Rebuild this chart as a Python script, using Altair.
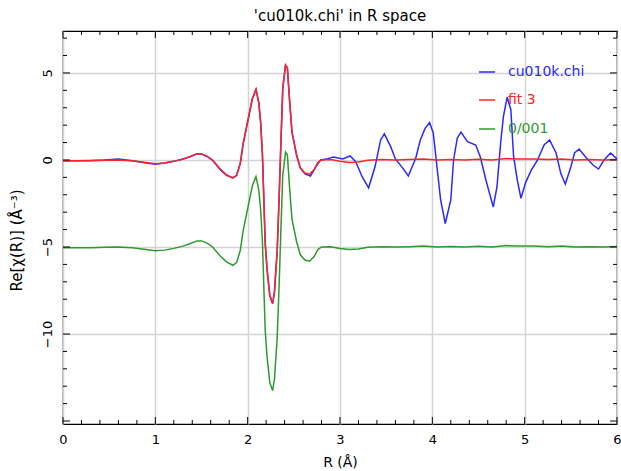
import altair as alt
import pandas as pd

# ---------------- data ----------------
R_fit = [0.00, 0.15, 0.30, 0.45, 0.60, 0.75, 0.90, 1.00, 1.10, 1.20,
         1.30, 1.38, 1.45, 1.50, 1.56, 1.62, 1.70, 1.77, 1.84, 1.88,
         1.92, 1.95, 2.00, 2.05, 2.09, 2.12, 2.14, 2.16, 2.19, 2.21,
         2.24, 2.27, 2.29, 2.32, 2.34, 2.36, 2.38, 2.41, 2.43, 2.45,
         2.48, 2.53, 2.57, 2.62, 2.67, 2.72, 2.76, 2.80, 2.90, 3.00,
         3.10, 3.20, 3.30, 3.45, 3.60, 3.75, 3.90, 4.05, 4.20, 4.35,
         4.50, 4.65, 4.80, 4.95, 5.10, 5.25, 5.40, 5.55, 5.70, 5.85,
         6.00]
fit_vals = [-0.05, -0.05, -0.04, -0.02, 0.00, -0.05, -0.15, -0.22, -0.18, -0.08,
            0.05, 0.20, 0.35, 0.35, 0.22, 0.00, -0.50, -0.85, -1.05, -0.90,
            -0.20, 0.90, 2.20, 3.50, 4.05, 3.30, 2.20, 0.30, -4.80, -6.30,
            -7.80, -8.25, -7.60, -5.20, -2.30, 1.00, 4.10, 5.45, 5.30, 3.70,
            1.60, 0.30, -0.45, -0.75, -0.82, -0.55, -0.15, 0.00, 0.02, -0.08,
            -0.15, -0.12, -0.02, 0.02, 0.00, 0.02, 0.05, 0.00, 0.03, 0.00,
            0.04, 0.00, 0.08, 0.05, 0.05, 0.02, 0.05, 0.00, 0.02, 0.00,
            0.03]
# "0/001" trace, drawn with a -5 offset in the reference
res_vals = [-5.05, -5.05, -5.04, -5.02, -5.00, -5.05, -5.15, -5.22, -5.18, -5.08,
            -4.95, -4.80, -4.65, -4.65, -4.78, -5.00, -5.50, -5.85, -6.05, -5.90,
            -5.20, -4.10, -2.80, -1.50, -0.95, -1.70, -2.80, -4.70, -9.80, -11.30,
            -12.80, -13.25, -12.60, -10.20, -7.30, -4.00, -0.90, 0.45, 0.30, -1.30,
            -3.40, -4.70, -5.45, -5.75, -5.82, -5.55, -5.15, -5.00, -4.98, -5.08,
            -5.15, -5.12, -5.02, -4.98, -5.00, -4.98, -4.95, -5.00, -4.97, -5.00,
            -4.96, -5.00, -4.92, -4.95, -4.95, -4.98, -4.95, -5.00, -4.98, -5.00,
            -4.97]

R_data = [0.00, 0.15, 0.30, 0.45, 0.60, 0.75, 0.90, 1.00, 1.10, 1.20,
          1.30, 1.38, 1.45, 1.50, 1.56, 1.62, 1.70, 1.77, 1.84, 1.88,
          1.92, 1.95, 2.00, 2.05, 2.09, 2.12, 2.14, 2.16, 2.19, 2.21,
          2.24, 2.27, 2.29, 2.32, 2.34, 2.36, 2.38, 2.41, 2.43, 2.45,
          2.48, 2.53,
          2.57, 2.62, 2.68, 2.75, 2.79, 2.85, 2.93, 3.03, 3.11, 3.17,
          3.24, 3.31, 3.38, 3.44, 3.48, 3.55, 3.60, 3.68, 3.74, 3.82,
          3.87, 3.92, 3.97, 4.01, 4.05, 4.09, 4.14, 4.20, 4.23, 4.27,
          4.31, 4.38, 4.47, 4.52, 4.58, 4.66, 4.70, 4.74, 4.77, 4.81,
          4.85, 4.88, 4.92, 4.96, 5.01, 5.07, 5.14, 5.21, 5.27, 5.34,
          5.39, 5.44, 5.50, 5.54, 5.59, 5.66, 5.74, 5.80, 5.86, 5.93,
          6.00]
data_vals = [-0.05, -0.05, -0.03, 0.00, 0.05, -0.04, -0.18, -0.25, -0.18, -0.08,
             0.05, 0.20, 0.36, 0.34, 0.20, -0.02, -0.55, -0.88, -1.02, -0.88,
             -0.20, 0.90, 2.20, 3.50, 4.05, 3.30, 2.20, 0.30, -4.80, -6.30,
             -7.80, -8.25, -7.60, -5.20, -2.30, 1.00, 4.10, 5.45, 5.30, 3.70,
             1.60, 0.25,
             -0.45, -0.80, -0.92, -0.29, 0.00, 0.05, 0.17, 0.06, 0.23, -0.10,
             -0.96, -1.60, -0.38, 1.15, 1.50, 0.75, 0.06, -0.47, -0.92, 0.10,
             1.15, 1.80, 2.15, 1.55, -0.38, -2.30, -3.65, -2.30, 0.00, 1.25,
             1.60, 1.05, 0.86, 0.17, -1.15, -2.70, -1.55, 1.00, 2.50, 3.60,
             2.90, 0.20, -1.15, -2.20, -1.30, -0.60, 0.00, 0.86, 1.15, 0.40,
             -0.75, -1.38, -0.40, 0.40, 0.63, 0.17, -0.29, -0.52, 0.00, 0.40,
             0.06]

series_names = ["cu010k.chi", "fit 3", "0/001"]
series_colors = ["#2a2aff", "#ff2424", "#2e9a2e"]

x_major = [0, 1, 2, 3, 4, 5, 6]
x_minor = [0.2, 0.4, 0.6, 0.8, 1.2, 1.4, 1.6, 1.8, 2.2, 2.4, 2.6, 2.8,
           3.2, 3.4, 3.6, 3.8, 4.2, 4.4, 4.6, 4.8, 5.2, 5.4, 5.6, 5.8]
y_labels = [-10, -5, 0, 5]
y_major = [-15, -10, -5, 0, 5]
y_minor = [-14, -13, -12, -11, -9, -8, -7, -6, -4, -3, -2, -1, 1, 2, 3, 4, 6, 7]

# ---------------- layout / style ----------------
W, H = 554, 393
FONT = "DejaVu Sans"
xs = alt.Scale(domain=[0, 6], nice=False, zero=False)
ys = alt.Scale(domain=[-15.17, 7.41], nice=False, zero=False)

ax_x = alt.Axis(values=x_major, format="d", title="R (Å)", grid=True,
                gridColor="#d4d4d4", gridWidth=1.5, domain=False, ticks=False,
                tickSize=0, labelFlush=False, labelFont=FONT, labelFontSize=13,
                labelColor="black", labelPadding=9, titleFont=FONT,
                titleFontSize=14, titleFontWeight="normal", titleColor="black",
                titleY=38, titleBaseline="middle")
ax_y = alt.Axis(values=y_labels, format="d", title="Re[χ(R)]  (Å⁻³)", grid=True,
                gridColor="#d4d4d4", gridWidth=1.5, domain=False, ticks=False,
                tickSize=0, labelFont=FONT, labelFontSize=13, labelColor="black",
                labelAngle=270, labelAlign="center", labelBaseline="bottom",
                labelPadding=9, labelFlush=False, titleFont=FONT, titleFontSize=15,
                titleFontWeight="normal", titleColor="black", titleAngle=270,
                titleX=-47, titleY=209, titleAlign="center",
                titleBaseline="middle")

X = lambda: alt.X("R:Q", scale=xs, axis=ax_x)
Y = lambda: alt.Y("v:Q", scale=ys, axis=ax_y)

layers = []
# data curves
for R, vals, col in [(R_data, data_vals, series_colors[0]),
                     (R_fit, fit_vals, series_colors[1]),
                     (R_fit, res_vals, series_colors[2])]:
    layers.append(
        alt.Chart(pd.DataFrame({"R": R, "v": vals}))
        .mark_line(color=col, strokeWidth=1.5)
        .encode(x=X(), y=Y())
    )

# inward ticks on all four sides
for vals, ln in [(x_major, 7), (x_minor, 4)]:
    dfx = pd.DataFrame({"R": vals})
    layers.append(alt.Chart(dfx).mark_rule(color="black", strokeWidth=1)
                  .encode(x=X(), y=alt.value(H), y2=alt.value(H - ln)))
    layers.append(alt.Chart(dfx).mark_rule(color="black", strokeWidth=1)
                  .encode(x=X(), y=alt.value(0), y2=alt.value(ln)))
for vals, ln in [(y_major, 7), (y_minor, 4)]:
    dfy = pd.DataFrame({"v": vals})
    layers.append(alt.Chart(dfy).mark_rule(color="black", strokeWidth=1)
                  .encode(y=Y(), x=alt.value(0), x2=alt.value(ln)))
    layers.append(alt.Chart(dfy).mark_rule(color="black", strokeWidth=1)
                  .encode(y=Y(), x=alt.value(W), x2=alt.value(W - ln)))

# legend (inside, top right)
legend_rows = [41, 69, 98]
for name, col, ly in zip(series_names, series_colors, legend_rows):
    dfl = pd.DataFrame({"name": [name]})
    layers.append(alt.Chart(dfl).mark_rule(color=col, strokeWidth=1.5)
                  .encode(x=alt.value(416), x2=alt.value(432), y=alt.value(ly)))
    layers.append(alt.Chart(dfl).mark_text(align="left", baseline="middle",
                                           font=FONT, fontSize=14, color=col)
                  .encode(x=alt.value(445), y=alt.value(ly), text="name:N"))

chart = (
    alt.layer(*layers)
    .properties(
        width=W, height=H,
        title=alt.TitleParams("'cu010k.chi' in R space", font=FONT, fontSize=15,
                              fontWeight="normal", color="black", offset=7,
                              anchor="middle"),
        padding={"left": 63, "top": 31, "right": 4, "bottom": 47},
        autosize=alt.AutoSizeParams(type="none"),
        background="white",
    )
    .configure_view(stroke="black", strokeWidth=1.2)
)

chart.save("out.html", embed_options={"renderer": "svg", "actions": False})
